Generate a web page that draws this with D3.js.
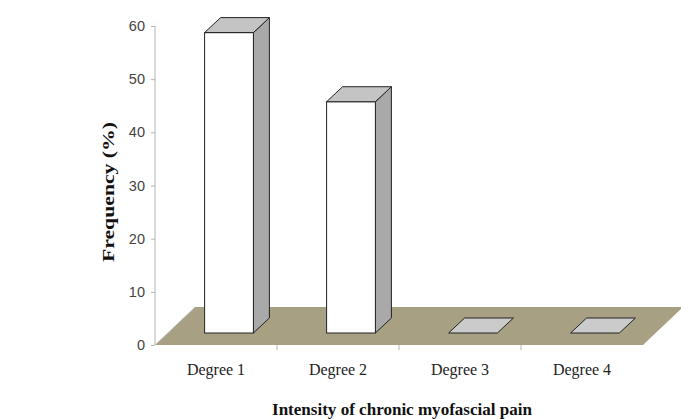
<!DOCTYPE html>
<html>
<head>
<meta charset="utf-8">
<script src="https://cdn.jsdelivr.net/npm/d3@7"></script>
<style>
  body { margin: 0; background: #fff; }
  svg { display: block; }
  .tick-lbl { font-family: "Liberation Sans", Arial, sans-serif; font-size: 14.5px; fill: #444; }
  .cat-lbl { font-family: "Liberation Serif", "Times New Roman", serif; font-size: 16px; fill: #222; }
  .ttl { font-family: "Liberation Serif", "Times New Roman", serif; font-weight: bold; font-size: 16px; fill: #111; }
</style>
</head>
<body>
<div id="chart"></div>
<script>
// data
const categories = ['Degree 1', 'Degree 2', 'Degree 3', 'Degree 4'];
const frequency = [56.5, 43.5, 0, 0];
const yTicks = [0, 10, 20, 30, 40, 50, 60];

const width = 681, height = 419;
const floorColor = '#a8a082',
    sideColor = '#a9a9a9',
    topColor = '#c4c4c4',
    axisColor = '#b4b4b4';

// pseudo-3d offsets (floor depth, bar front / back inside the floor)
const floorDepth = [40, -38];
const barFront = [13, -12];
const barDepth = [16, -15];

const svg = d3.select('#chart').append('svg')
    .attr('width', width)
    .attr('height', height);

const x = d3.scaleBand()
    .domain(categories)
    .range([155, 643]);

const y = d3.scaleLinear()
    .domain([0, 60])
    .range([345, 26]);

const y0 = y(0);

// floor
svg.append('path')
    .attr('d', d3.line()([
        [x.range()[0], y0],
        [x.range()[1], y0],
        [x.range()[1] + floorDepth[0], y0 + floorDepth[1]],
        [x.range()[0] + floorDepth[0], y0 + floorDepth[1]]
    ]) + 'Z')
    .attr('fill', floorColor);

// floor left edge
svg.append('line')
    .attr('x1', x.range()[0]).attr('y1', y0)
    .attr('x2', x.range()[0] + floorDepth[0]).attr('y2', y0 + floorDepth[1])
    .attr('stroke', '#cfcfcf')
    .attr('stroke-width', 1);

// category ticks under the floor
svg.append('g')
    .selectAll('line')
    .data(categories.slice(1))
    .enter()
    .append('line')
    .attr('x1', d => x(d)).attr('x2', d => x(d))
    .attr('y1', y0).attr('y2', y0 + 5)
    .attr('stroke', axisColor);

// bars
const barW = x.bandwidth() * 0.4;
const bars = svg.append('g')
    .selectAll('g')
    .data(categories.map((c, i) => ({ cat: c, v: frequency[i] })))
    .enter()
    .append('g');

bars.each(function(d) {
    const g = d3.select(this);
    const xl = x(d.cat) + (x.bandwidth() - barW) / 2 + barFront[0];
    const xr = xl + barW;
    const yb = y0 + barFront[1];
    const yt = y(d.v) + barFront[1];
    const dx = barDepth[0], dy = barDepth[1];
    const line = d3.line();

    if (d.v > 0) {
        // side
        g.append('path')
            .attr('d', line([[xr, yb], [xr + dx, yb + dy], [xr + dx, yt + dy], [xr, yt]]) + 'Z')
            .attr('fill', sideColor).attr('stroke', '#222').attr('stroke-width', 1);
        // front
        g.append('rect')
            .attr('x', xl).attr('y', yt)
            .attr('width', barW).attr('height', yb - yt)
            .attr('fill', '#fff').attr('stroke', '#222').attr('stroke-width', 1);
    }
    // top
    g.append('path')
        .attr('d', line([[xl, yt], [xr, yt], [xr + dx, yt + dy], [xl + dx, yt + dy]]) + 'Z')
        .attr('fill', d.v > 0 ? topColor : '#cbcbcb')
        .attr('stroke', '#222').attr('stroke-width', 1);
});

// y axis
const yAxis = svg.append('g')
    .attr('transform', 'translate(155,0)')
    .call(d3.axisLeft(y).tickValues(yTicks).tickSize(4).tickPadding(6));
yAxis.select('.domain').attr('stroke', axisColor).attr('d', 'M0,' + y(60) + 'V' + y0);
yAxis.selectAll('.tick line').attr('stroke', axisColor);
yAxis.selectAll('.tick text').attr('class', 'tick-lbl').attr('fill', null);

// category labels
svg.append('g')
    .selectAll('text')
    .data(categories)
    .enter()
    .append('text')
    .attr('class', 'cat-lbl')
    .attr('x', d => x(d) + x.bandwidth() / 2)
    .attr('y', 375)
    .attr('text-anchor', 'middle')
    .text(d => d);

// axis titles
svg.append('text')
    .attr('class', 'ttl')
    .attr('x', 402)
    .attr('y', 415)
    .attr('text-anchor', 'middle')
    .attr('textLength', 260)
    .attr('lengthAdjust', 'spacingAndGlyphs')
    .text('Intensity of chronic myofascial pain');

svg.append('text')
    .attr('class', 'ttl')
    .attr('transform', 'translate(114,192) rotate(-90)')
    .attr('text-anchor', 'middle')
    .attr('textLength', 140)
    .attr('lengthAdjust', 'spacingAndGlyphs')
    .text('Frequency (%)');
</script>
</body>
</html>
